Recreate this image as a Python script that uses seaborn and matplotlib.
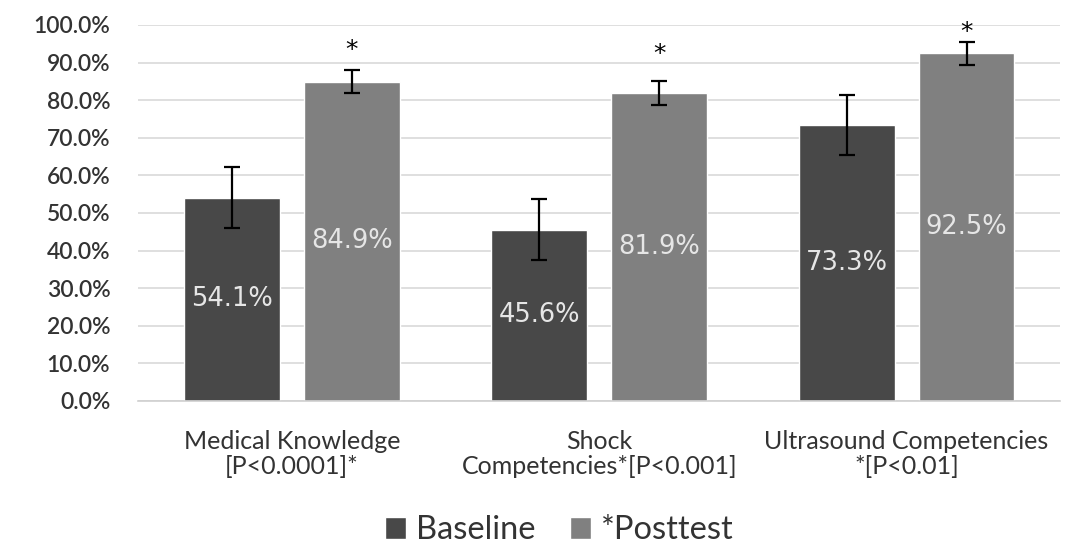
import matplotlib
matplotlib.use("Agg")
import matplotlib.pyplot as plt
import seaborn as sns
import pandas as pd
import numpy as np

# Mean scores (%) and error-bar half widths for each domain
categories = ["Medical Knowledge\n[P<0.0001]*",
              "Shock\nCompetencies*[P<0.001]",
              "Ultrasound Competencies\n*[P<0.01]"]
groups = ["Baseline", "*Posttest"]
baseline = [54.1, 45.6, 73.3]
posttest = [84.9, 81.9, 92.5]
baseline_err = [8.2, 8.2, 8.0]
posttest_err = [3.1, 3.2, 3.1]
y_ticks = [0, 10, 20, 30, 40, 50, 60, 70, 80, 90, 100]

df = pd.DataFrame({
    "category": categories * 2,
    "group": [groups[0]] * 3 + [groups[1]] * 3,
    "score": baseline + posttest,
})

sns.set_theme(style="white")
plt.rcParams["font.family"] = ["Lato", "DejaVu Sans"]

fig = plt.figure(figsize=(10.71, 5.5), dpi=100)
ax = fig.add_axes([0.129, 0.271, 0.861, 0.6836])

palette = {"Baseline": "#484848", "*Posttest": "#808080"}
sns.barplot(data=df, x="category", y="score", hue="group", hue_order=groups,
            order=categories, palette=palette, width=0.78, gap=0.2,
            errorbar=None, saturation=1, ax=ax, legend=True, zorder=2)

ax.set_ylim(0, 100)
ax.set_xlim(-0.5, 2.5)
ax.set_yticks(y_ticks)
ax.set_yticklabels([f"{v:.1f}%" for v in y_ticks], fontsize=16.5,
                   color="#333333", fontweight="semibold")
ax.set_xticks(range(len(categories)))
ax.set_xticklabels(categories, fontsize=18, color="#333333", linespacing=1.12)
ax.tick_params(axis="x", length=0, pad=21)
ax.tick_params(axis="y", length=0, pad=20)
ax.set_xlabel("")
ax.set_ylabel("")
ax.yaxis.grid(True, color="#d9d9d9", linewidth=1.2, zorder=0)
ax.set_axisbelow(True)
for side in ["left", "right", "top"]:
    ax.spines[side].set_visible(False)
ax.spines["bottom"].set_color("#d0d0d0")
ax.spines["bottom"].set_linewidth(1.2)

# Bars come out ordered by hue, then by category
bars = ax.patches[:6]
errs = baseline_err + posttest_err
values = baseline + posttest
star_offsets = [20, 27, 10]
for i, (bar, val, err) in enumerate(zip(bars, values, errs)):
    xc = bar.get_x() + bar.get_width() / 2
    ax.errorbar(xc, val, yerr=err, color="black", capsize=6, capthick=1.6,
                elinewidth=1.6, zorder=3)
    ax.text(xc, val / 2, f"{val:.1f}%", ha="center", va="center",
            color="#e6e6e6", fontsize=18.5, family="DejaVu Sans", zorder=4)
    if i >= 3:
        ax.annotate("*", xy=(xc, val + err), xytext=(0, star_offsets[i - 3]),
                    textcoords="offset pixels", ha="center", va="center",
                    fontsize=18, color="black", family="DejaVu Sans")

handles, labels = ax.get_legend_handles_labels()
ax.get_legend().remove()
fig.legend(handles, labels, loc="center", bbox_to_anchor=(0.522, 0.036),
           ncol=2, frameon=False, fontsize=23.5, handlelength=0.65,
           handleheight=0.65, handletextpad=0.3, columnspacing=1.05,
           labelcolor="#333333", borderpad=0.1)

fig.savefig("out.png", dpi=100)
